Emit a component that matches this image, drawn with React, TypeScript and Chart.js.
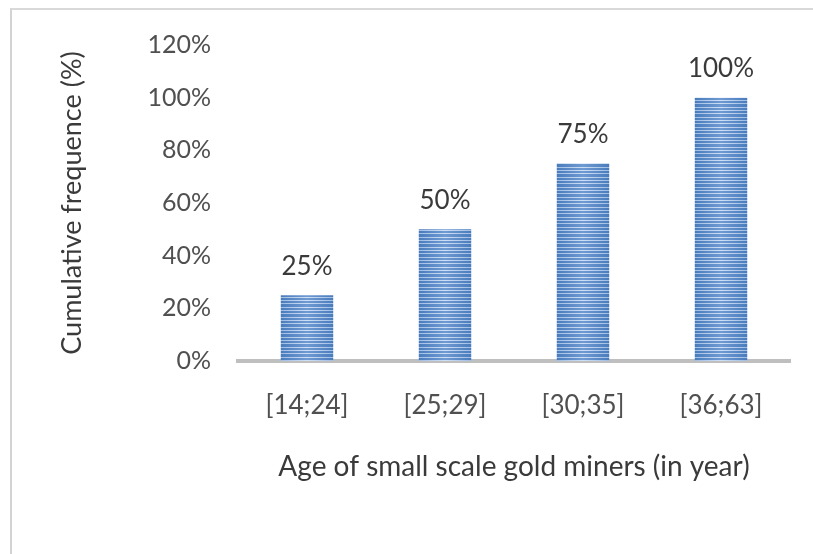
import React, { useEffect, useRef } from "react";
import { Chart, registerables } from "chart.js";

Chart.register(...registerables);

// Age classes of small scale gold miners and their cumulative frequency
const ageClasses = ["[14;24]", "[25;29]", "[30;35]", "[36;63]"];
const cumulativeFrequency = [0.25, 0.5, 0.75, 1.0];
const yTicks = [0, 0.2, 0.4, 0.6, 0.8, 1.0, 1.2];

const xTitle = "Age of small scale gold miners (in year)";
const yTitle = "Cumulative frequence (%)";

const FONT = "Lato, 'Open Sans', sans-serif";
const CATEGORY_FRACTION = 0.38;

const pct = (v: number) => `${Math.round(v * 100)}%`;

// Striped fill with a soft horizontal shading, aligned to each bar
function stripedFill(ctx: any) {
  const chart = ctx.chart;
  const xs = chart.scales?.x;
  const fallback = "#5b8ac8";
  if (!xs || ctx.dataIndex === undefined) return fallback;
  const cat = (xs.right - xs.left) / ageClasses.length;
  const center = xs.getPixelForValue(ctx.dataIndex);
  if (!isFinite(cat) || !isFinite(center) || cat <= 0) return fallback;
  const w = Math.max(2, Math.round(cat * CATEGORY_FRACTION));
  const left = center - w / 2;
  const tileH = 10;
  const tile = document.createElement("canvas");
  tile.width = w;
  tile.height = tileH;
  const t = tile.getContext("2d")!;
  const dark = t.createLinearGradient(0, 0, w, 0);
  dark.addColorStop(0, "#4a7cbc");
  dark.addColorStop(0.5, "#6f9ad3");
  dark.addColorStop(1, "#4a7cbc");
  const light = t.createLinearGradient(0, 0, w, 0);
  light.addColorStop(0, "#a0bde4");
  light.addColorStop(0.5, "#cfdff4");
  light.addColorStop(1, "#a0bde4");
  t.fillStyle = dark;
  t.fillRect(0, 0, w, tileH);
  t.fillStyle = light;
  [0, 3, 7].forEach((r) => t.fillRect(0, r, w, 1));
  const pattern = t.createPattern(tile, "repeat");
  if (!pattern) return fallback;
  pattern.setTransform(new DOMMatrix([1, 0, 0, 1, left, 0]));
  return pattern;
}

// Value labels above each bar
const valueLabels = {
  id: "valueLabels",
  afterDatasetsDraw(chart: any) {
    const { ctx } = chart;
    const meta = chart.getDatasetMeta(0);
    ctx.save();
    ctx.font = `26px ${FONT}`;
    ctx.fillStyle = "#3a3a3a";
    ctx.textAlign = "center";
    ctx.textBaseline = "middle";
    meta.data.forEach((bar: any, i: number) => {
      ctx.fillText(pct(cumulativeFrequency[i]), bar.x, bar.y - 29);
    });
    ctx.restore();
  },
};

export default function App() {
  const canvasRef = useRef<HTMLCanvasElement | null>(null);

  useEffect(() => {
    if (!canvasRef.current) return;
    const chart = new Chart(canvasRef.current, {
      type: "bar",
      data: {
        labels: ageClasses,
        datasets: [
          {
            data: cumulativeFrequency,
            backgroundColor: stripedFill,
            borderWidth: 0,
            barPercentage: 1,
            categoryPercentage: CATEGORY_FRACTION,
          },
        ],
      },
      options: {
        animation: false,
        responsive: true,
        maintainAspectRatio: false,
        layout: { padding: { top: 45, right: 23, bottom: 0, left: 0 } },
        plugins: {
          legend: { display: false },
          tooltip: { enabled: false },
        },
        scales: {
          x: {
            z: 1,
            grid: { display: false, drawTicks: false },
            border: { display: true, color: "#bfbfbf", width: 4 },
            ticks: {
              color: "#505050",
              font: { family: FONT, size: 26 },
              padding: 29,
              maxRotation: 0,
            },
            title: {
              display: true,
              text: xTitle,
              color: "#3a3a3a",
              font: { family: FONT, size: 28 },
              padding: { top: 0, bottom: 70 },
            },
            afterFit: (scale: any) => {
              scale.height = 193;
            },
          },
          y: {
            min: 0,
            max: 1.2,
            grid: { display: false, drawTicks: false },
            border: { display: false },
            afterBuildTicks: (scale: any) => {
              scale.ticks = yTicks.map((v) => ({ value: v }));
            },
            ticks: {
              color: "#505050",
              font: { family: FONT, size: 25 },
              padding: 27,
              callback: (v: any) => pct(Number(v)),
            },
            title: {
              display: true,
              text: yTitle,
              color: "#3a3a3a",
              font: { family: FONT, size: 27 },
              padding: { top: 56, bottom: 0 },
            },
            afterFit: (scale: any) => {
              scale.width = 238;
            },
          },
        },
      },
      plugins: [valueLabels],
    });
    return () => chart.destroy();
  }, []);

  return (
    <div
      style={{
        position: "absolute",
        left: 0,
        top: 0,
        width: 813,
        height: 554,
        background: "#ffffff",
        overflow: "hidden",
      }}
    >
      <div
        style={{
          position: "absolute",
          left: 10,
          top: 8,
          width: 803,
          height: 546,
          borderLeft: "2px solid #d3d3d3",
          borderTop: "2px solid #d9d9d9",
          boxSizing: "border-box",
        }}
      />
      <div style={{ position: "absolute", left: 0, top: 0, width: 813, height: 554 }}>
        <canvas ref={canvasRef} />
      </div>
    </div>
  );
}
